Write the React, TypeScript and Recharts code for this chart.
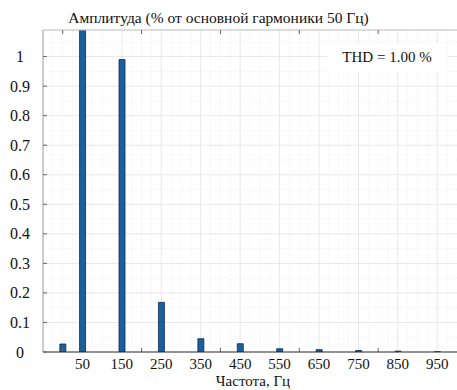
import { Bar, BarChart, CartesianGrid, ReferenceLine, XAxis, YAxis } from 'recharts';

// Harmonic spectrum, amplitude relative to the 50 Hz fundamental.
const freqs = [0, 50, 150, 250, 350, 450, 550, 650, 750, 850, 950];
const amps = [0.027, 1.09, 0.99, 0.168, 0.045, 0.028, 0.011, 0.008, 0.005, 0.003, 0.001];

const xTicks = [50, 150, 250, 350, 450, 550, 650, 750, 850, 950];
const yTicks = [0, 0.1, 0.2, 0.3, 0.4, 0.5, 0.6, 0.7, 0.8, 0.9, 1];
const xMarks = [0, 200, 400, 600, 800];
const minorX = [-25, 0, 25, 75, 100, 125, 175, 200, 225, 275, 300, 325, 375, 400, 425, 475, 500, 525, 575, 600, 625, 675, 700, 725, 775, 800, 825, 875, 900, 925, 975];
const minorY = [0.05, 0.15, 0.25, 0.35, 0.45, 0.55, 0.65, 0.75, 0.85, 0.95, 1.05];

const title = 'Амплитуда (% от основной гармоники 50 Гц)';
const xName = 'Частота, Гц';
const thdText = 'THD = 1.00 %';

const data = freqs.map((f, i) => ({ f, a: amps[i] }));

const FONT = '"Liberation Serif", "Times New Roman", serif';
const W = 457;
const H = 390;

function YTick({ x, y, payload }: { x?: number; y?: number; payload?: { value: number } }) {
  const v = payload?.value ?? 0;
  const x0 = x ?? 0;
  return (
    <g>
      <line x1={x0 + 23} x2={x0 + 27} y1={y} y2={y} stroke="#666" />
      <text x={x0} y={y} dy={5.5} textAnchor="middle" fontSize={16} fill="#111" fontFamily={FONT}>
        {String(Math.round(v * 10) / 10)}
      </text>
    </g>
  );
}

export default function App() {
  return (
    <div style={{ position: 'absolute', left: 0, top: 0, width: W, height: H, background: '#fff', fontFamily: FONT, overflow: 'hidden' }}>
      <div style={{ position: 'absolute', left: 0, width: 437, top: 9, textAlign: 'center', fontSize: 15.5, color: '#111' }}>
        {title}
      </div>
      <BarChart width={W} height={H} data={data} margin={{ top: 30, right: 0, bottom: 0, left: 0 }}>
        <CartesianGrid
          stroke="#f3f3f3"
          strokeDasharray="2 2"
          horizontalValues={minorY}
          verticalValues={minorX}
        />
        <CartesianGrid stroke="#e8e8e8" horizontalValues={yTicks} verticalValues={xTicks} />
        <XAxis
          dataKey="f"
          type="number"
          domain={[-50, 1000]}
          ticks={xTicks}
          interval={0}
          height={38}
          tickSize={0}
          tickMargin={6}
          tick={{ fontSize: 15, fill: '#111', fontFamily: FONT }}
          axisLine={{ stroke: '#333' }}
        />
        <YAxis
          type="number"
          domain={[0, 1.09]}
          allowDataOverflow
          ticks={yTicks}
          interval={0}
          width={43}
          tickSize={0}
          tickMargin={23}
          tick={<YTick />}
          axisLine={{ stroke: '#999' }}
        />
        <ReferenceLine y={1.09} stroke="#bbb" />
        {xMarks.map((m) => (
          <ReferenceLine
            key={`b${m}`}
            segment={[{ x: m, y: 0 }, { x: m, y: 0.014 }]}
            stroke="#666"
          />
        ))}
        {xMarks.map((m) => (
          <ReferenceLine
            key={`t${m}`}
            segment={[{ x: m, y: 1.09 }, { x: m, y: 1.076 }]}
            stroke="#666"
          />
        ))}
        <Bar dataKey="a" fill="#1b5f9c" stroke="#0c2c50" strokeWidth={0.8} barSize={6} isAnimationActive={false} />
      </BarChart>
      <div
        style={{
          position: 'absolute',
          left: 327,
          top: 43,
          width: 120,
          height: 29,
          background: '#fff',
          textAlign: 'center',
          lineHeight: '29px',
          fontSize: 15,
          color: '#111',
        }}
      >
        {thdText}
      </div>
      <div style={{ position: 'absolute', left: 153, width: 200, top: 373, textAlign: 'center', fontSize: 15, color: '#111' }}>
        {xName}
      </div>
    </div>
  );
}
